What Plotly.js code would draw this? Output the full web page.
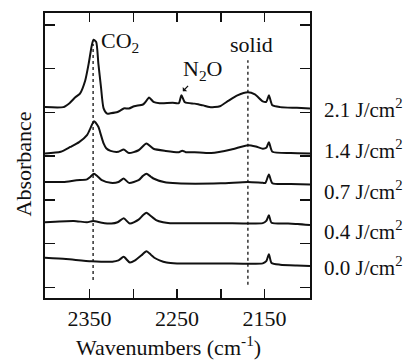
<!DOCTYPE html>
<html>
<head>
<meta charset="utf-8">
<script src="https://cdn.plot.ly/plotly-3.0.1.min.js"></script>
<style>
  html, body { margin: 0; padding: 0; background: #fff; }
  #chart { width: 406px; height: 362px; }
</style>
</head>
<body>
<div id="chart"></div>
<script>
// Fluence labels (series, bottom to top)
const fluenceLabels = ["0.0 J/cm<sup>2</sup>", "0.4 J/cm<sup>2</sup>", "0.7 J/cm<sup>2</sup>", "1.4 J/cm<sup>2</sup>", "2.1 J/cm<sup>2</sup>"];

// Spectra (wavenumber, offset absorbance)
const wn00 = [2401, 2377, 2348, 2324, 2317, 2311, 2304, 2298, 2291, 2285, 2280, 2276, 2270, 2262, 2250, 2200, 2152, 2148, 2145, 2142, 2132, 2113, 2098];
const a00  = [0.92, 0.89, 0.84, 0.83, 0.86, 0.94, 0.81, 0.86, 0.97, 1.07, 0.99, 0.92, 0.86, 0.81, 0.79, 0.79, 0.79, 0.84, 1.00, 0.80, 0.76, 0.74, 0.73];

const wn04 = [2401, 2368, 2353, 2346, 2336, 2325, 2318, 2311, 2304, 2294, 2289, 2285, 2281, 2274, 2266, 2258, 2200, 2152, 2148, 2145, 2142, 2123, 2112, 2098];
const a04  = [1.73, 1.76, 1.73, 1.76, 1.72, 1.70, 1.73, 1.82, 1.70, 1.79, 1.89, 1.95, 1.89, 1.78, 1.73, 1.71, 1.71, 1.71, 1.76, 1.89, 1.72, 1.70, 1.69, 1.665];

const wn07 = [2401, 2380, 2365, 2353, 2349, 2345, 2341, 2336, 2326, 2317, 2311, 2305, 2294, 2289, 2285, 2280, 2277, 2265, 2250, 2200, 2169, 2152, 2149, 2145, 2141, 2120, 2098];
const a07  = [2.65, 2.65, 2.69, 2.71, 2.77, 2.84, 2.78, 2.69, 2.63, 2.65, 2.73, 2.63, 2.69, 2.79, 2.84, 2.77, 2.73, 2.65, 2.62, 2.62, 2.65, 2.63, 2.63, 2.82, 2.62, 2.605, 2.595];

const wn14 = [2401, 2383, 2372, 2362, 2353, 2349, 2345, 2340, 2337, 2334, 2331, 2326, 2317, 2311, 2305, 2294, 2285, 2277, 2263, 2248, 2244, 2240, 2230, 2211, 2188, 2169, 2160, 2152, 2148, 2145, 2141, 2120, 2098];
const a14  = [3.30, 3.34, 3.45, 3.56, 3.72, 3.88, 4.04, 3.91, 3.72, 3.53, 3.42, 3.36, 3.34, 3.39, 3.31, 3.375, 3.53, 3.41, 3.36, 3.33, 3.365, 3.33, 3.33, 3.31, 3.39, 3.49, 3.46, 3.41, 3.43, 3.56, 3.34, 3.31, 3.30];

const wn21 = [2401, 2380, 2373, 2366, 2361, 2355, 2351, 2347.5, 2345.5, 2342.5, 2340, 2337, 2334, 2330, 2326, 2318, 2315, 2311, 2305, 2299, 2289, 2286, 2282, 2277, 2270, 2265, 2255, 2248, 2245, 2241, 2230, 2225, 2220, 2213, 2201, 2191, 2181, 2169, 2161, 2152, 2148, 2145, 2141, 2132, 2113, 2098];
const a21  = [4.36, 4.36, 4.45, 4.59, 4.67, 4.97, 5.36, 5.77, 5.90, 5.85, 5.36, 4.82, 4.33, 4.21, 4.22, 4.25, 4.28, 4.33, 4.33, 4.38, 4.42, 4.48, 4.58, 4.48, 4.45, 4.45, 4.46, 4.45, 4.63, 4.47, 4.44, 4.42, 4.40, 4.36, 4.38, 4.51, 4.63, 4.70, 4.65, 4.49, 4.48, 4.63, 4.40, 4.36, 4.345, 4.33];

// Band markers (dotted vertical lines): [wavenumber, yFrom, yTo]
const co2Line = [2346, 0.41, 5.80];
const solidLine = [2169, 0.30, 5.43];

// Axis ticks
const xTickVals = [2350, 2300, 2250, 2200, 2150];
const xTickText = ["2350", "", "2250", "", "2150"];

const serif = "Liberation Serif, Times New Roman, Times, serif";
const ink = "#111";
const fs = 22;

const series = [[wn00, a00], [wn04, a04], [wn07, a07], [wn14, a14], [wn21, a21]];
const traces = series.map(([x, y]) => ({
  x: x, y: y, type: "scatter", mode: "lines",
  line: { color: ink, width: 2, shape: "spline", smoothing: 0.6 },
  hoverinfo: "skip", showlegend: false
}));

// Label vertical centres (pixels from top) for fluence labels
const labelPix = [266, 231, 191, 149, 108];
const H = 362, T = 13, B = 64;
const plotH = H - T - B;

const annotations = fluenceLabels.map((t, i) => ({
  text: t, xref: "paper", yref: "paper",
  x: (322 - 45) / 265, y: (H - B - labelPix[i]) / plotH,
  xanchor: "left", yanchor: "middle", showarrow: false,
  font: { family: serif, size: 21, color: ink }
}));

annotations.push(
  { text: "CO<sub>2</sub>", x: 2339.5, y: 5.84, xref: "x", yref: "y", xanchor: "left", yanchor: "middle",
    showarrow: false, font: { family: serif, size: fs, color: ink } },
  { text: "solid", x: 2164.9, y: 5.79, xref: "x", yref: "y", xanchor: "center", yanchor: "middle",
    showarrow: false, font: { family: serif, size: fs, color: ink } },
  { text: "N<sub>2</sub>O", x: 2243.4, y: 4.72, xref: "x", yref: "y", ax: 20, ay: -21,
    showarrow: true, arrowhead: 1, arrowsize: 0.8, arrowwidth: 1.3, arrowcolor: ink,
    font: { family: serif, size: fs, color: ink } },
  { text: "Wavenumbers (cm<sup>-1</sup>)", xref: "paper", yref: "paper",
    x: (168 - 45) / 265, y: (H - B - 346) / plotH, xanchor: "center", yanchor: "middle",
    showarrow: false, font: { family: serif, size: fs, color: ink } },
  { text: "Absorbance", xref: "paper", yref: "paper", textangle: -90,
    x: (22.5 - 45) / 265, y: (H - B - 164) / plotH, xanchor: "center", yanchor: "middle",
    showarrow: false, font: { family: serif, size: fs, color: ink } }
);

const shapes = [co2Line, solidLine].map(([x, y0, y1]) => ({
  type: "line", xref: "x", yref: "y", x0: x, x1: x, y0: y0, y1: y1,
  line: { color: ink, width: 1.3, dash: "dot" }
}));

const layout = {
  width: 406, height: 362,
  margin: { l: 45, r: 96, t: T, b: B, pad: 0 },
  paper_bgcolor: "#fff", plot_bgcolor: "#fff",
  showlegend: false,
  xaxis: {
    range: [2401, 2098], showgrid: false, zeroline: false,
    showline: true, linecolor: ink, linewidth: 1.6, mirror: "ticks",
    ticks: "inside", ticklen: 9, tickwidth: 1.5, tickcolor: ink,
    tickvals: xTickVals, ticktext: xTickText,
    tickfont: { family: serif, size: fs, color: ink },
    ticklabelstandoff: 0
  },
  yaxis: {
    range: [0, 6.51], showgrid: false, zeroline: false,
    showline: true, linecolor: ink, linewidth: 1.6, mirror: "ticks",
    ticks: "inside", ticklen: 10, tickwidth: 1.5, tickcolor: ink,
    tick0: 0.24, dtick: 1, showticklabels: false
  },
  annotations: annotations,
  shapes: shapes
};

Plotly.newPlot("chart", traces, layout, { staticPlot: true, displayModeBar: false });
</script>
</body>
</html>
